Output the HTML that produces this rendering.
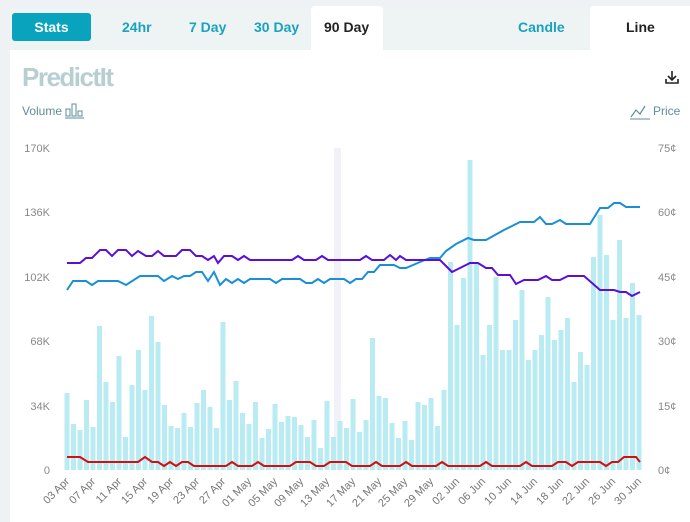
<!DOCTYPE html>
<html><head><style>
body{margin:0;width:690px;height:522px;background:#eef2f4;font-family:"Liberation Sans",sans-serif;overflow:hidden;position:relative}
.t{position:absolute;top:19px;font-weight:bold;font-size:14px;color:#1aa3bf}
</style></head><body>
<div style="position:absolute;left:10px;top:8px;width:680px;height:42px;background:#eef3f4"></div>
<div style="position:absolute;left:311px;top:6px;width:72px;height:44px;background:#fff;border-radius:4px 4px 0 0"></div>
<div style="position:absolute;left:590px;top:6px;width:100px;height:44px;background:#fff;border-radius:4px 0 0 0"></div>
<div style="position:absolute;left:12px;top:13px;width:79px;height:28px;background:#0aa3be;border-radius:3px;color:#fff;font-weight:bold;font-size:14px;text-align:center;line-height:28px">Stats</div>
<div class="t" style="left:122px">24hr</div>
<div class="t" style="left:189px">7 Day</div>
<div class="t" style="left:254px">30 Day</div>
<div class="t" style="left:324px;color:#222">90 Day</div>
<div class="t" style="left:518px">Candle</div>
<div class="t" style="left:626px;color:#222">Line</div>
<div style="position:absolute;left:10px;top:50px;width:680px;height:472px;background:#fff"></div>
<div style="position:absolute;left:22px;top:62px;font-size:26px;font-weight:bold;color:#b7cfd1;letter-spacing:-1.5px">PredictIt</div>
<div style="position:absolute;left:22px;top:104px;font-size:12px;color:#5b8f99">Volume</div>
<svg style="position:absolute;left:65px;top:103px" width="20" height="16"><rect x="1" y="6" width="4" height="7" fill="none" stroke="#5b8f99"/><rect x="7" y="1" width="4" height="12" fill="none" stroke="#5b8f99"/><rect x="13" y="8" width="4" height="5" fill="none" stroke="#5b8f99"/><line x1="0" y1="15" x2="19" y2="15" stroke="#5b8f99"/></svg>
<div style="position:absolute;left:653px;top:104px;font-size:12px;color:#5b8f99">Price</div>
<svg style="position:absolute;left:630px;top:100px" width="22" height="20"><polyline points="1,17 6,10 10,14 15,6" fill="none" stroke="#5b8f99" stroke-width="1.2"/><line x1="0" y1="19" x2="20" y2="19" stroke="#5b8f99"/></svg>
<svg style="position:absolute;left:665px;top:70px" width="14" height="14"><line x1="7" y1="1" x2="7" y2="9" stroke="#222" stroke-width="1.6"/><polyline points="3,6 7,10 11,6" fill="none" stroke="#222" stroke-width="1.6"/><polyline points="1,9 1,13 13,13 13,9" fill="none" stroke="#222" stroke-width="1.6"/></svg>
<svg style="position:absolute;left:0;top:0" width="690" height="522" font-family="Liberation Sans,sans-serif" font-size="11" fill="#888">
<rect x="334" y="148" width="7" height="322" fill="#f1f1f7"/>
<g fill="#b9ebf2" id="bars"></g>
<g text-anchor="end"><text x="50" y="152">170K</text><text x="50" y="216">136K</text><text x="50" y="281">102K</text><text x="50" y="345">68K</text><text x="50" y="410">34K</text><text x="50" y="474">0</text></g>
<g><text x="658" y="152">75¢</text><text x="658" y="216">60¢</text><text x="658" y="281">45¢</text><text x="658" y="345">30¢</text><text x="658" y="410">15¢</text><text x="658" y="474">0¢</text></g>
<polyline fill="none" stroke="#1a8fd6" stroke-width="2" points="67,290 73,281 86,281 92,285 98,281 118,281 126,285 140,276 158,276 164,281 172,276 178,279 184,276 190,276 196,272 202,272 208,281 214,272 220,285 226,279 232,283 238,279 244,283 250,279 270,279 276,283 282,279 300,279 306,283 312,283 318,279 324,283 330,279 344,279 350,283 356,279 362,279 368,272 374,272 380,265 394,265 400,268 406,268 420,262 430,258 440,258 446,251 456,244 468,238 474,240 486,240 504,230 512,226 520,222 534,222 540,217 546,224 552,224 560,220 566,224 590,224 600,208 608,208 614,203 620,203 626,207 640,207"/>
<polyline fill="none" stroke="#5b0fd6" stroke-width="2" points="67,263 80,263 86,258 92,258 100,250 106,250 112,256 118,250 126,250 132,256 138,251 146,256 152,256 158,251 164,256 176,256 182,250 190,250 196,256 202,256 208,260 214,256 218,263 224,256 232,256 238,260 244,256 250,260 292,260 298,256 304,260 316,260 322,256 328,260 360,260 366,256 372,260 384,260 390,255 396,260 400,256 406,260 440,260 446,266 452,272 460,268 470,263 478,263 486,268 492,268 498,275 510,275 516,284 524,280 538,280 546,276 552,280 560,280 568,276 584,276 592,283 600,290 614,290 620,292 626,292 632,296 640,292"/>
<polyline fill="none" stroke="#d40f0f" stroke-width="2" points="67,457 80,457 88,462 138,462 145,457 152,462 158,462 164,466 170,462 176,466 182,462 188,462 194,466 226,466 232,462 238,466 252,466 258,462 264,466 290,466 296,462 310,462 316,466 324,466 330,462 346,462 352,466 370,466 376,462 382,466 400,466 406,462 412,466 436,466 442,462 448,466 480,466 486,462 492,466 520,466 526,462 532,466 552,466 558,462 566,462 572,466 578,462 600,462 606,466 612,462 618,462 624,457 636,457 640,462"/>
<g fill="#777" font-size="11" id="xl"></g>
</svg>
<script>
var tops=[393,424,430,400,427,326,382,402,356,437,385,350,390,316,342,405,426,428,413,427,403,390,407,428,322,400,381,413,424,402,438,429,404,422,416,417,425,437,420,448,401,437,421,428,399,432,420,338,396,398,423,438,421,440,402,405,398,426,390,262,325,278,160,262,355,325,277,350,350,320,290,360,350,335,297,340,330,318,382,352,365,257,215,255,320,240,318,283,315];
var g=document.getElementById('bars'),s='';
tops.forEach(function(t,i){var x=64.5+6.5*i;s+='<rect x="'+x+'" y="'+t+'" width="5" height="'+(470-t)+'"/>';});
g.innerHTML=s;
var L=['03 Apr','07 Apr','11 Apr','15 Apr','19 Apr','23 Apr','27 Apr','01 May','05 May','09 May','13 May','17 May','21 May','25 May','29 May','02 Jun','06 Jun','10 Jun','14 Jun','18 Jun','22 Jun','26 Jun','30 Jun'],h='';
L.forEach(function(l,i){var x=70+26*i;h+='<text text-anchor="end" transform="translate('+x+',482) rotate(-45)">'+l+'</text>';});
document.getElementById('xl').innerHTML=h;
</script>
</body></html>
